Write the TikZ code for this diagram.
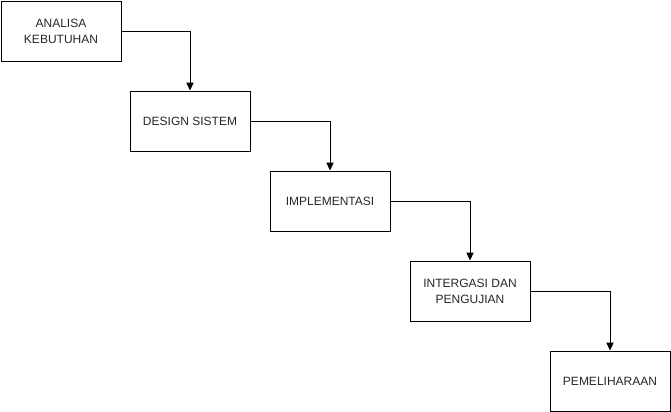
\documentclass[tikz,border=0pt]{standalone}
\usepackage{fontspec}
\setmainfont{Liberation Sans}
\usetikzlibrary{arrows.meta}
\begin{document}
\begin{tikzpicture}[x=0.75pt,y=-0.75pt,
  stepbox/.style={draw=black,line width=0.75pt,minimum width=90pt,minimum height=45pt,
    inner sep=0pt,align=center,font=\fontsize{9}{12}\selectfont,text=black!85},
  conn/.style={draw=black,line width=0.75pt,-{Triangle[length=6pt,width=5.5pt]}}]
\useasboundingbox (0,0) rectangle (671,411);
\node[stepbox] (a) at (61,31) {ANALISA\\KEBUTUHAN};
\node[stepbox] (b) at (190,121) {DESIGN SISTEM};
\node[stepbox] (c) at (330,201) {IMPLEMENTASI};
\node[stepbox] (d) at (470,291) {INTERGASI DAN\\PENGUJIAN};
\node[stepbox] (e) at (610,381) {PEMELIHARAAN};
\draw[conn] (a.east) -| (b.north);
\draw[conn] (b.east) -| (c.north);
\draw[conn] (c.east) -| (d.north);
\draw[conn] (d.east) -| (e.north);
\end{tikzpicture}
\end{document}
